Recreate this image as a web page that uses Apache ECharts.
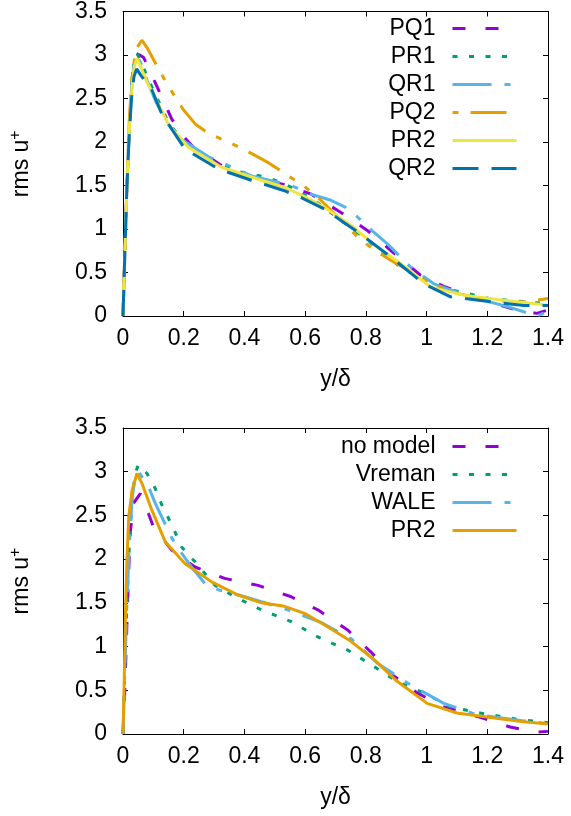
<!DOCTYPE html>
<html>
<head>
<meta charset="utf-8">
<script src="https://cdn.jsdelivr.net/npm/echarts@6/dist/echarts.min.js"></script>
<style>
  html, body { margin: 0; padding: 0; background: #fff; }
  #chart { width: 571px; height: 816px; }
</style>
</head>
<body>
<div id="chart"></div>
<script>
// rms u+ profiles against y/delta, [x, y] pairs

// top panel
const pq1 = [[0,0],[0.005,0.6],[0.012,1.4],[0.02,2.1],[0.028,2.6],[0.035,2.9],[0.042,3.02],[0.055,3.0],[0.068,2.97],[0.084,2.85],[0.117,2.6],[0.161,2.26],[0.2,2.06],[0.232,1.94],[0.325,1.73],[0.434,1.59],[0.532,1.51],[0.62,1.40],[0.718,1.19],[0.806,0.98],[0.893,0.72],[0.98,0.47],[1.057,0.34],[1.166,0.20],[1.275,0.09],[1.363,0.03],[1.4,0.07]]
const pr1 = [[0,0],[0.005,0.6],[0.012,1.4],[0.02,2.1],[0.028,2.6],[0.036,2.9],[0.046,3.02],[0.06,2.92],[0.08,2.75],[0.106,2.55],[0.15,2.22],[0.2,2.0],[0.27,1.82],[0.368,1.67],[0.423,1.63],[0.478,1.59],[0.532,1.52],[0.576,1.44],[0.65,1.28],[0.806,0.87],[0.85,0.74],[0.915,0.56],[1.035,0.335],[1.21,0.20],[1.385,0.145],[1.4,0.14]]
const qr1 = [[0,0],[0.005,0.6],[0.012,1.4],[0.02,2.1],[0.028,2.6],[0.036,2.88],[0.046,2.99],[0.06,2.9],[0.08,2.7],[0.11,2.45],[0.15,2.2],[0.183,2.05],[0.282,1.83],[0.423,1.61],[0.554,1.50],[0.62,1.40],[0.685,1.33],[0.745,1.23],[0.784,1.10],[0.827,0.96],[0.871,0.83],[0.948,0.56],[1.024,0.37],[1.144,0.22],[1.265,0.11],[1.363,0.0],[1.4,0.05]]
const pq2 = [[0,0],[0.005,0.6],[0.012,1.4],[0.02,2.2],[0.03,2.8],[0.045,3.08],[0.062,3.17],[0.08,3.08],[0.106,2.91],[0.133,2.74],[0.166,2.55],[0.199,2.37],[0.24,2.2],[0.286,2.09],[0.341,2.01],[0.401,1.91],[0.48,1.76],[0.554,1.59],[0.598,1.49],[0.652,1.33],[0.707,1.14],[0.778,0.89],[0.822,0.775],[0.882,0.64],[0.937,0.53],[1.013,0.37],[1.10,0.26],[1.21,0.18],[1.32,0.16],[1.4,0.2]]
const pr2 = [[0,0],[0.005,0.6],[0.012,1.4],[0.02,2.1],[0.028,2.55],[0.036,2.85],[0.046,2.96],[0.06,2.85],[0.08,2.68],[0.106,2.51],[0.15,2.2],[0.215,1.94],[0.325,1.71],[0.456,1.56],[0.532,1.48],[0.6,1.37],[0.663,1.25],[0.751,1.04],[0.838,0.79],[0.915,0.60],[1.013,0.335],[1.122,0.24],[1.253,0.18],[1.4,0.125]]
const qr2 = [[0,0],[0.005,0.6],[0.012,1.4],[0.02,2.05],[0.028,2.5],[0.036,2.75],[0.045,2.84],[0.06,2.76],[0.095,2.6],[0.128,2.32],[0.204,1.92],[0.314,1.69],[0.423,1.56],[0.532,1.44],[0.587,1.36],[0.663,1.23],[0.773,0.965],[0.882,0.68],[0.991,0.37],[1.079,0.22],[1.21,0.165],[1.32,0.12],[1.4,0.12]]

// bottom panel
const noModel = [[0,0],[0.006,0.5],[0.013,1.27],[0.018,1.8],[0.024,2.31],[0.035,2.64],[0.057,2.75],[0.084,2.52],[0.1,2.37],[0.161,2.1],[0.237,1.91],[0.335,1.78],[0.445,1.70],[0.554,1.57],[0.642,1.42],[0.74,1.19],[0.816,0.94],[0.893,0.66],[0.969,0.47],[1.057,0.31],[1.177,0.19],[1.275,0.08],[1.363,0.02],[1.4,0.03]]
const vreman = [[0,0],[0.005,0.6],[0.012,1.4],[0.02,2.1],[0.03,2.7],[0.04,2.98],[0.051,3.08],[0.079,2.98],[0.106,2.81],[0.128,2.62],[0.161,2.39],[0.193,2.14],[0.237,1.97],[0.303,1.70],[0.368,1.57],[0.456,1.42],[0.554,1.285],[0.642,1.11],[0.74,0.96],[0.827,0.77],[0.904,0.60],[0.991,0.47],[1.079,0.31],[1.177,0.24],[1.297,0.17],[1.4,0.13]]
const wale = [[0,0],[0.005,0.6],[0.012,1.4],[0.02,2.1],[0.03,2.7],[0.04,2.93],[0.051,3.0],[0.084,2.83],[0.106,2.64],[0.161,2.24],[0.193,2.07],[0.226,1.91],[0.27,1.72],[0.314,1.65],[0.401,1.57],[0.543,1.42],[0.65,1.28],[0.751,1.09],[0.838,0.81],[0.948,0.56],[1.057,0.35],[1.166,0.22],[1.32,0.15],[1.4,0.12]]
const pr2b = [[0,0],[0.004,0.6],[0.008,1.34],[0.013,2.0],[0.019,2.49],[0.03,2.79],[0.046,2.98],[0.062,2.87],[0.095,2.56],[0.139,2.20],[0.204,1.95],[0.292,1.74],[0.379,1.59],[0.456,1.50],[0.532,1.46],[0.598,1.38],[0.663,1.25],[0.751,1.06],[0.827,0.85],[0.904,0.60],[1.002,0.35],[1.10,0.24],[1.21,0.19],[1.32,0.14],[1.4,0.115]]

const topNames = ['PQ1', 'PR1', 'QR1', 'PQ2', 'PR2', 'QR2']
const bottomNames = ['no model', 'Vreman', 'WALE', 'PR2 ']

const font = 'Liberation Sans'
const fs = 23
const black = '#000'

function xAxes(gridIndex) {
  return [{
    type: 'value', gridIndex: gridIndex, min: 0, max: 1.4, interval: 0.2,
    name: 'y/δ', nameLocation: 'middle', nameGap: 52,
    nameTextStyle: { fontFamily: font, fontSize: fs, color: black },
    axisLine: { onZero: false, lineStyle: { color: black, width: 1 } },
    axisTick: { inside: true, length: 5, lineStyle: { color: black } },
    axisLabel: { fontFamily: font, fontSize: fs, color: black, margin: 11 },
    splitLine: { show: false }
  }, {
    type: 'value', gridIndex: gridIndex, position: 'top', min: 0, max: 1.4, interval: 0.2,
    axisLine: { onZero: false, lineStyle: { color: black, width: 1 } },
    axisTick: { inside: true, length: 5, lineStyle: { color: black } },
    axisLabel: { show: false },
    splitLine: { show: false }
  }]
}

function yAxes(gridIndex) {
  return [{
    type: 'value', gridIndex: gridIndex, min: 0, max: 3.5, interval: 0.5,
    name: '{a|rms u}{s|+}', nameLocation: 'middle', nameGap: 87,
    nameTextStyle: {
      rich: {
        a: { fontFamily: font, fontSize: fs, color: black },
        s: { fontFamily: font, fontSize: 16, color: black, verticalAlign: 'top', padding: [0, 0, 12, 0] }
      }
    },
    axisLine: { onZero: false, lineStyle: { color: black, width: 1 } },
    axisTick: { inside: true, length: 5, lineStyle: { color: black } },
    axisLabel: { fontFamily: font, fontSize: fs, color: black, margin: 16 },
    splitLine: { show: false }
  }, {
    type: 'value', gridIndex: gridIndex, position: 'right', min: 0, max: 3.5, interval: 0.5,
    axisLine: { onZero: false, lineStyle: { color: black, width: 1 } },
    axisTick: { inside: true, length: 5, lineStyle: { color: black } },
    axisLabel: { show: false },
    splitLine: { show: false }
  }]
}

function line(name, data, color, dash, axis, offset) {
  return {
    name: name,
    type: 'line',
    xAxisIndex: axis,
    yAxisIndex: axis,
    data: data,
    showSymbol: false,
    symbol: 'none',
    animation: false,
    lineStyle: { color: color, width: 3, type: dash, dashOffset: offset || 0 },
    itemStyle: { color: color }
  }
}

const legendBase = {
  orient: 'vertical',
  right: 53,
  align: 'right',
  padding: 0,
  itemWidth: 64,
  itemHeight: 14,
  itemGap: 5,
  selectedMode: false,
  formatter: function (n) { return n.trim() },
  textStyle: { fontFamily: font, fontSize: fs, color: black, lineHeight: 20, padding: [0, 12, 0, 0] },
  itemStyle: { opacity: 0 },
  lineStyle: { width: 3 }
}

const chart = echarts.init(document.getElementById('chart'), null, { renderer: 'canvas' })

chart.setOption({
  backgroundColor: '#fff',
  animation: false,
  grid: [
    { left: 121, top: 10, width: 427, height: 306 },
    { left: 121, top: 428, width: 427, height: 306 }
  ],
  legend: [
    Object.assign({}, legendBase, { top: 17, data: topNames }),
    Object.assign({}, legendBase, { top: 435, data: bottomNames })
  ],
  xAxis: xAxes(0).concat(xAxes(1)),
  yAxis: yAxes(0).concat(yAxes(1)),
  series: [
    line('PQ1', pq1, '#9400D3', [13, 20], 0),
    line('PR1', pr1, '#009E73', [5, 11.5], 0),
    line('QR1', qr1, '#56B4E9', [39, 13, 6, 13], 0),
    line('PQ2', pq2, '#E69F00', [36, 12, 6, 12, 6, 12], 0, 66),
    line('PR2', pr2, '#F0E442', 'solid', 0),
    line('QR2', qr2, '#0072B2', [26, 13], 0),
    line('no model', noModel, '#9400D3', [13, 20], 2),
    line('Vreman', vreman, '#009E73', [5, 11.5], 2),
    line('WALE', wale, '#56B4E9', [39, 13, 6, 13], 2),
    line('PR2 ', pr2b, '#E69F00', 'solid', 2)
  ]
})
</script>
</body>
</html>
